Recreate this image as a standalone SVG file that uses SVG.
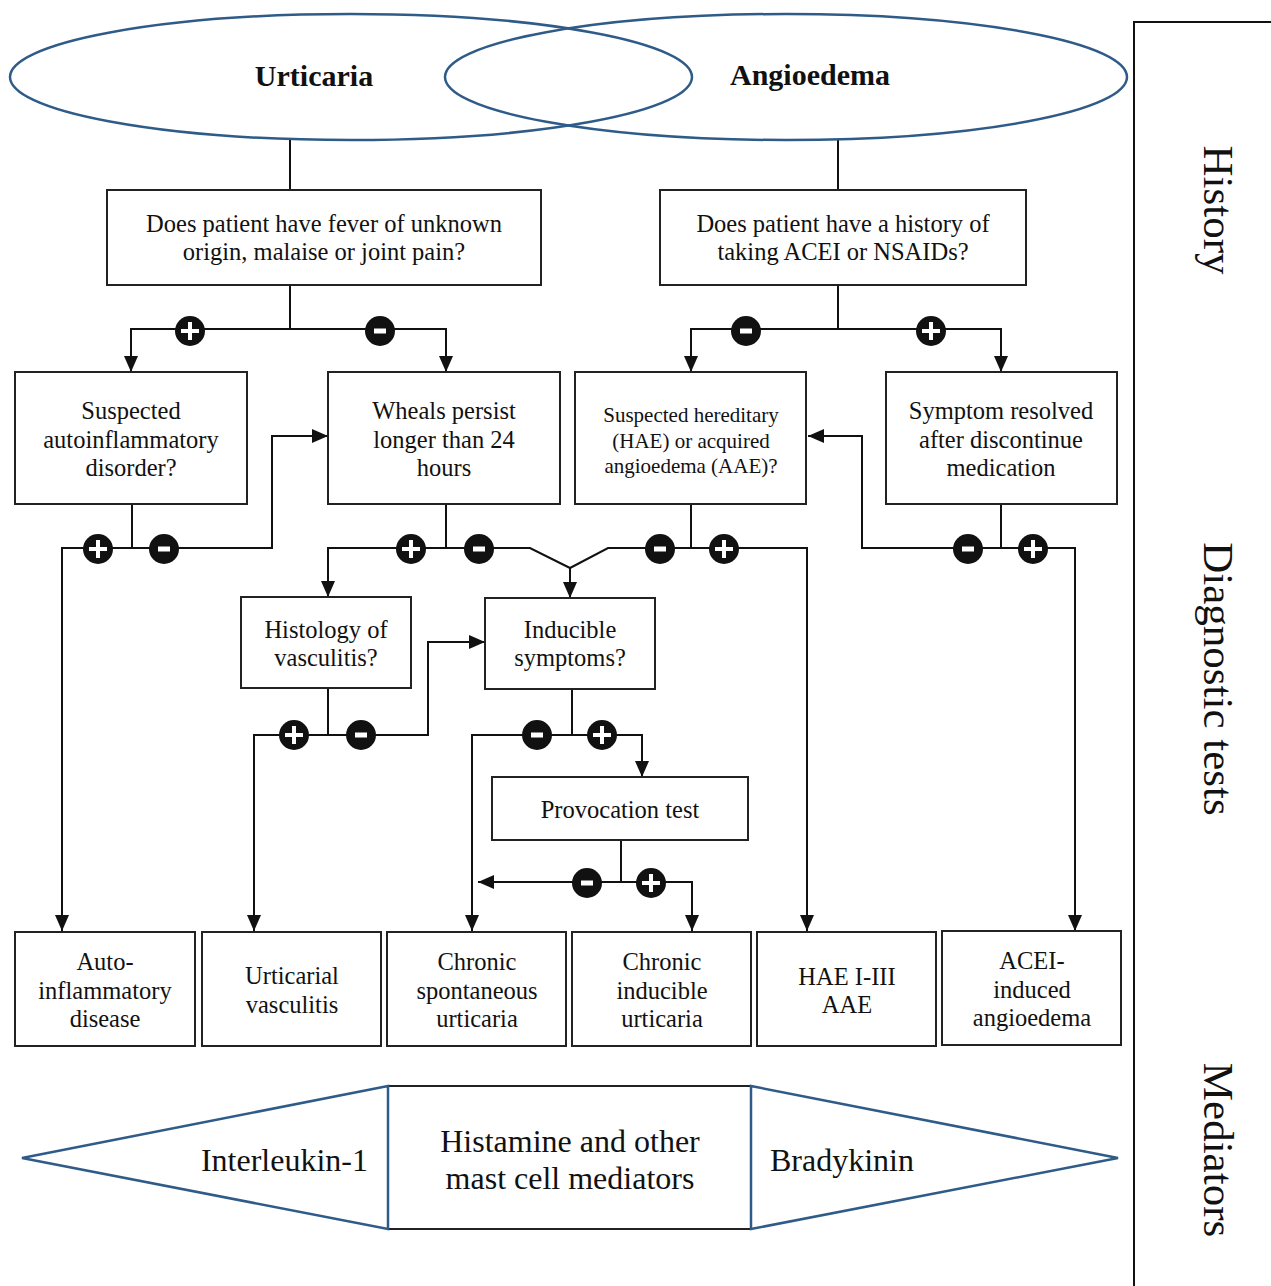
<svg xmlns="http://www.w3.org/2000/svg" xmlns:xlink="http://www.w3.org/1999/xlink" width="1271" height="1286" viewBox="0 0 1271 1286">
<style>
  .box { fill: #ffffff; stroke: #222222; stroke-width: 2; }
  .blue { fill: none; stroke: #2f5b88; stroke-width: 2.5; }
  .bluef { fill: #ffffff; stroke: #2f5b88; stroke-width: 2.5; }
  .t { font-family: "Liberation Serif", "Times New Roman", serif; font-size: 24.5px; fill: #111111; text-anchor: middle; }
  .ts { font-family: "Liberation Serif", "Times New Roman", serif; font-size: 21px; fill: #111111; text-anchor: middle; }
  .tb { font-family: "Liberation Serif", "Times New Roman", serif; font-size: 30px; font-weight: bold; fill: #111111; text-anchor: middle; }
  .tm { font-family: "Liberation Serif", "Times New Roman", serif; font-size: 32px; fill: #111111; }
  .side { font-family: "Liberation Serif", "Times New Roman", serif; font-size: 43px; fill: #111111; text-anchor: middle; }
  .c { fill: none; stroke: #111111; stroke-width: 2; }
  .ca { fill: none; stroke: #111111; stroke-width: 2; marker-end: url(#arr); }
</style>
<defs>
  <marker id="arr" viewBox="0 0 16 14" refX="16" refY="7" markerWidth="16" markerHeight="14" markerUnits="userSpaceOnUse" orient="auto">
    <path d="M0,0 L16,7 L0,14 z" fill="#111111"/>
  </marker>
  <g id="plus">
    <circle r="15" fill="#111111"/>
    <path d="M-9,0 H9 M0,-9 V9" stroke="#ffffff" stroke-width="4" fill="none"/>
  </g>
  <g id="minus">
    <circle r="15" fill="#111111"/>
    <rect x="-6" y="-2.5" width="12" height="5" fill="#ffffff"/>
  </g>
</defs>
<rect width="1271" height="1286" fill="#ffffff"/>

<!-- side panel -->
<g id="side-panel">
  <path d="M1134,1286 V22 H1271" class="c"/>
  <text class="side" transform="translate(1204,210) rotate(90)">History</text>
  <text class="side" transform="translate(1204,679) rotate(90)">Diagnostic tests</text>
  <text class="side" transform="translate(1204,1150) rotate(90)">Mediators</text>
</g>

<!-- connectors -->
<g id="connectors">
  <path d="M290,140 V190" class="c"/>
  <path d="M838,140 V190" class="c"/>
  <path d="M290,285 V329" class="c"/>
  <path d="M290,329 H131 V372" class="ca"/>
  <path d="M290,329 H446 V372" class="ca"/>
  <path d="M838,285 V329" class="c"/>
  <path d="M838,329 H691 V372" class="ca"/>
  <path d="M838,329 H1001 V372" class="ca"/>

  <path d="M132,504 V548" class="c"/>
  <path d="M132,548 H62 V931" class="ca"/>
  <path d="M132,548 H272 V436 H328" class="ca"/>

  <path d="M446,504 V548" class="c"/>
  <path d="M446,548 H328 V597" class="ca"/>
  <path d="M446,548 H530 L570,568" class="c"/>
  <path d="M570,568 V598" class="ca"/>
  <path d="M691,504 V548" class="c"/>
  <path d="M691,548 H608 L570,568" class="c"/>
  <path d="M691,548 H807 V931" class="ca"/>

  <path d="M1001,504 V548" class="c"/>
  <path d="M1001,548 H862 V436 H808" class="ca"/>
  <path d="M1001,548 H1075 V931" class="ca"/>

  <path d="M328,688 V735" class="c"/>
  <path d="M328,735 H254 V931" class="ca"/>
  <path d="M328,735 H428 V642 H485" class="ca"/>

  <path d="M572,689 V735" class="c"/>
  <path d="M572,735 H472 V931" class="ca"/>
  <path d="M572,735 H642 V777" class="ca"/>

  <path d="M621,840 V882" class="c"/>
  <path d="M621,882 H478" class="ca"/>
  <path d="M621,882 H692 V931" class="ca"/>

  <use xlink:href="#plus" x="190" y="331"/>
  <use xlink:href="#minus" x="380" y="331"/>
  <use xlink:href="#minus" x="746" y="331"/>
  <use xlink:href="#plus" x="931" y="331"/>
  <use xlink:href="#plus" x="98" y="549"/>
  <use xlink:href="#minus" x="164" y="549"/>
  <use xlink:href="#plus" x="411" y="549"/>
  <use xlink:href="#minus" x="479" y="549"/>
  <use xlink:href="#minus" x="660" y="549"/>
  <use xlink:href="#plus" x="724" y="549"/>
  <use xlink:href="#minus" x="968" y="549"/>
  <use xlink:href="#plus" x="1033" y="549"/>
  <use xlink:href="#plus" x="294" y="735"/>
  <use xlink:href="#minus" x="361" y="735"/>
  <use xlink:href="#minus" x="537" y="735"/>
  <use xlink:href="#plus" x="602" y="735"/>
  <use xlink:href="#minus" x="587" y="883"/>
  <use xlink:href="#plus" x="651" y="883"/>
</g>

<!-- ellipses -->
<g id="urticaria">
  <ellipse cx="351" cy="77" rx="341" ry="63" class="blue"/>
  <text class="tb" x="314" y="86">Urticaria</text>
</g>
<g id="angioedema">
  <ellipse cx="786" cy="77" rx="341" ry="63" class="blue"/>
  <text class="tb" x="810" y="85">Angioedema</text>
</g>

<g id="q-fever">
  <rect x="107" y="190" width="434" height="95" class="box"/>
  <text class="t" x="324" y="232">Does patient have fever of unknown</text>
  <text class="t" x="324" y="260">origin, malaise or joint pain?</text>
</g>
<g id="q-acei">
  <rect x="660" y="190" width="366" height="95" class="box"/>
  <text class="t" x="843" y="232">Does patient have a history of</text>
  <text class="t" x="843" y="260">taking ACEI or NSAIDs?</text>
</g>

<g id="autoinflammatory-q">
  <rect x="15" y="372" width="232" height="132" class="box"/>
  <text class="t" x="131" y="419">Suspected</text>
  <text class="t" x="131" y="448">autoinflammatory</text>
  <text class="t" x="131" y="476">disorder?</text>
</g>
<g id="wheals">
  <rect x="328" y="372" width="232" height="132" class="box"/>
  <text class="t" x="444" y="419">Wheals persist</text>
  <text class="t" x="444" y="448">longer than 24</text>
  <text class="t" x="444" y="476">hours</text>
</g>
<g id="hae-q">
  <rect x="575" y="372" width="231" height="132" class="box"/>
  <text class="ts" x="691" y="422">Suspected hereditary</text>
  <text class="ts" x="691" y="448">(HAE) or acquired</text>
  <text class="ts" x="691" y="473">angioedema (AAE)?</text>
</g>
<g id="symptom-resolved">
  <rect x="886" y="372" width="231" height="132" class="box"/>
  <text class="t" x="1001" y="419">Symptom resolved</text>
  <text class="t" x="1001" y="448">after discontinue</text>
  <text class="t" x="1001" y="476">medication</text>
</g>

<g id="histology">
  <rect x="241" y="597" width="170" height="91" class="box"/>
  <text class="t" x="326" y="638">Histology of</text>
  <text class="t" x="326" y="666">vasculitis?</text>
</g>
<g id="inducible">
  <rect x="485" y="598" width="170" height="91" class="box"/>
  <text class="t" x="570" y="638">Inducible</text>
  <text class="t" x="570" y="666">symptoms?</text>
</g>
<g id="provocation">
  <rect x="492" y="777" width="256" height="63" class="box"/>
  <text class="t" x="620" y="818">Provocation test</text>
</g>

<g id="auto-disease">
  <rect x="15" y="932" width="180" height="114" class="box"/>
  <text class="t" x="105" y="970">Auto-</text>
  <text class="t" x="105" y="999">inflammatory</text>
  <text class="t" x="105" y="1027">disease</text>
</g>
<g id="urticarial-vasculitis">
  <rect x="202" y="932" width="179" height="114" class="box"/>
  <text class="t" x="292" y="984">Urticarial</text>
  <text class="t" x="292" y="1013">vasculitis</text>
</g>
<g id="csu">
  <rect x="387" y="932" width="179" height="114" class="box"/>
  <text class="t" x="477" y="970">Chronic</text>
  <text class="t" x="477" y="999">spontaneous</text>
  <text class="t" x="477" y="1027">urticaria</text>
</g>
<g id="cindu">
  <rect x="572" y="932" width="179" height="114" class="box"/>
  <text class="t" x="662" y="970">Chronic</text>
  <text class="t" x="662" y="999">inducible</text>
  <text class="t" x="662" y="1027">urticaria</text>
</g>
<g id="hae">
  <rect x="757" y="932" width="179" height="114" class="box"/>
  <text class="t" x="847" y="985">HAE I-III</text>
  <text class="t" x="847" y="1013">AAE</text>
</g>
<g id="acei-angioedema">
  <rect x="942" y="931" width="179" height="114" class="box"/>
  <text class="t" x="1032" y="969">ACEI-</text>
  <text class="t" x="1032" y="998">induced</text>
  <text class="t" x="1032" y="1026">angioedema</text>
</g>

<!-- mediators -->
<g id="mast-cell">
  <rect x="388" y="1086" width="363" height="143" class="box"/>
  <text class="tm" x="570" y="1152" text-anchor="middle">Histamine and other</text>
  <text class="tm" x="570" y="1189" text-anchor="middle">mast cell mediators</text>
</g>
<g id="interleukin">
  <polygon points="388,1086 22,1158 388,1229" class="bluef"/>
  <text class="tm" x="368" y="1171" text-anchor="end">Interleukin-1</text>
</g>
<g id="bradykinin">
  <polygon points="751,1086 1118,1158 751,1229" class="bluef"/>
  <text class="tm" x="770" y="1171">Bradykinin</text>
</g>
</svg>
